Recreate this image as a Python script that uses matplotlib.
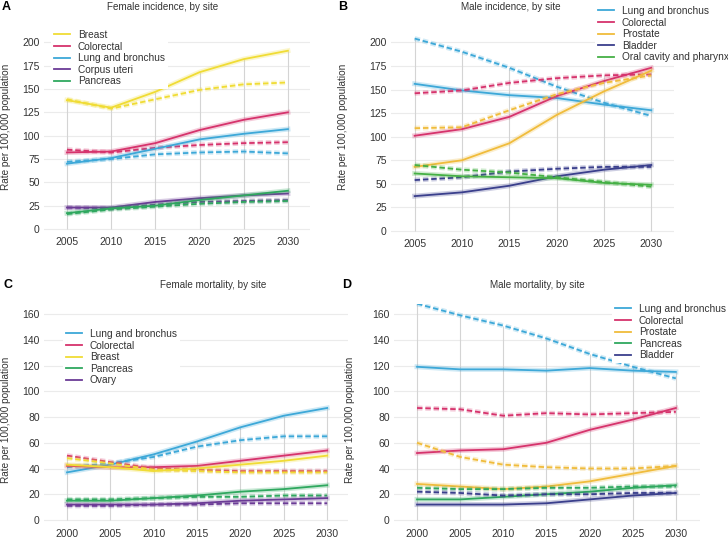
import matplotlib.pyplot as plt
import matplotlib.patheffects as pe

plt.rcParams['font.family'] = ['Liberation Sans', 'DejaVu Sans']
plt.rcParams['text.color'] = '#333333'

# ---- data: solid = observed trend, dashed = alternative projection ----
years_inc = [2005, 2010, 2015, 2020, 2025, 2030]
years_mort = [2000, 2005, 2010, 2015, 2020, 2025, 2030]

# A: female incidence
fi_sites = ["Breast", "Colorectal", "Lung and bronchus", "Corpus uteri", "Pancreas"]
fi_solid = [
    [138, 130, 147, 168, 182, 191],
    [82, 83, 92, 106, 117, 125],
    [70, 76, 86, 96, 102, 107],
    [23, 23, 29, 33, 36, 38],
    [17, 22, 25, 31, 36, 41],
]
fi_dashed = [
    [139, 129, 139, 149, 155, 157],
    [85, 82, 87, 90, 92, 93],
    [72, 75, 80, 82, 83, 81],
    [23, 22, 26, 29, 30, 31],
    [16, 21, 24, 27, 29, 30],
]

# B: male incidence
mi_sites = ["Lung and bronchus", "Colorectal", "Prostate", "Bladder", "Oral cavity and pharynx"]
mi_solid = [
    [156, 149, 144, 141, 134, 128],
    [101, 108, 121, 143, 159, 173],
    [68, 75, 93, 123, 148, 170],
    [37, 41, 48, 58, 65, 70],
    [61, 58, 57, 56, 51, 49],
]
mi_dashed = [
    [204, 190, 173, 153, 136, 122],
    [146, 149, 157, 162, 165, 166],
    [109, 110, 128, 145, 157, 165],
    [54, 57, 63, 66, 68, 68],
    [70, 65, 62, 57, 52, 47],
]

# C: female mortality
fm_sites = ["Lung and bronchus", "Colorectal", "Breast", "Pancreas", "Ovary"]
fm_solid = [
    [37, 43, 51, 61, 72, 81, 87],
    [42, 41, 41, 42, 46, 50, 54],
    [43, 41, 38, 40, 43, 46, 50],
    [15, 15, 17, 19, 22, 24, 27],
    [12, 12, 12, 13, 15, 16, 17],
]
fm_dashed = [
    [41, 44, 49, 57, 62, 65, 65],
    [50, 45, 40, 39, 38, 38, 38],
    [48, 44, 39, 38, 37, 37, 37],
    [16, 16, 17, 18, 18, 19, 19],
    [11, 11, 12, 12, 13, 13, 13],
]

# D: male mortality
mm_sites = ["Lung and bronchus", "Colorectal", "Prostate", "Pancreas", "Bladder"]
mm_solid = [
    [119, 117, 117, 116, 118, 116, 115],
    [52, 54, 55, 60, 70, 78, 87],
    [28, 26, 24, 26, 30, 36, 42],
    [16, 16, 18, 20, 22, 25, 27],
    [12, 12, 12, 13, 16, 19, 21],
]
mm_dashed = [
    [168, 159, 151, 141, 129, 119, 110],
    [87, 86, 81, 83, 82, 83, 84],
    [60, 49, 43, 41, 40, 40, 42],
    [25, 24, 24, 25, 25, 26, 26],
    [22, 21, 19, 20, 20, 21, 21],
]

site_colors = {
    "Breast": "#F0DC35",
    "Colorectal": "#D6336C",
    "Lung and bronchus": "#3DA8D8",
    "Corpus uteri": "#6B3B96",
    "Pancreas": "#2FA85F",
    "Prostate": "#F0BC3C",
    "Bladder": "#3A3F8C",
    "Oral cavity and pharynx": "#45B045",
    "Ovary": "#6B3B96",
}

W, H = 728, 539
fig = plt.figure(figsize=(W / 100, H / 100), dpi=100)


def box(x0, x1, y_top, y_bot):
    # pixel box -> figure fraction
    return [x0 / W, 1 - y_bot / H, (x1 - x0) / W, (y_bot - y_top) / H]


def panel(rect, years, sites, solid, dashed, xlim, ylim, yticks, legend_xy):
    ax = fig.add_axes(rect)
    # drop lines from 0 to highest value at each year
    tops = [max(col) for col in zip(*(solid + dashed))]
    ax.vlines(years, 0, tops, color='#d4d4d4', lw=0.8, zorder=1)
    handles = []
    for name, s, d in zip(sites, solid, dashed):
        c = site_colors[name]
        glow = [pe.Stroke(linewidth=3.6, foreground=c, alpha=0.25), pe.Normal()]
        h, = ax.plot(years, s, color=c, lw=1.3, path_effects=glow, zorder=3, label=name)
        ax.plot(years, d, color=c, lw=1.3, ls=(0, (3, 1.6)), path_effects=glow, zorder=3)
        handles.append(h)
    ax.set_xlim(*xlim)
    ax.set_ylim(*ylim)
    ax.set_xticks(years)
    ax.set_yticks(yticks)
    ax.yaxis.grid(True, color='#ebebeb', lw=0.8, zorder=0)
    ax.set_axisbelow(True)
    for sp in ax.spines.values():
        sp.set_visible(False)
    ax.tick_params(length=0, labelsize=7.5, colors='#333333', pad=3)
    ax.tick_params(axis='x', pad=2)
    fig.legend(handles=[plt.Line2D([], [], color=h.get_color(), lw=1.3) for h in handles],
               labels=sites, loc='upper left',
               bbox_to_anchor=(legend_xy[0] / W, 1 - legend_xy[1] / H),
               fontsize=7.25, frameon=True, facecolor='white', edgecolor='none',
               framealpha=1, fancybox=False, borderpad=0.3, borderaxespad=0,
               handlelength=1.55, handletextpad=0.8, labelspacing=0.15)
    return ax


panel(box(44, 310, 33, 234.6), years_inc, fi_sites, fi_solid, fi_dashed,
      (2002.4, 2032.5), (-6, 210), range(0, 201, 25), (51, 27))
panel(box(391, 674, 31, 236.7), years_inc, mi_sites, mi_solid, mi_dashed,
      (2002.5, 2032.4), (-6, 212), range(0, 201, 25), (595, 3))
panel(box(44, 348, 303.7, 525.8), years_mort, fm_sites, fm_solid, fm_dashed,
      (1997.35, 2032.4), (-4.5, 168), range(0, 161, 20), (63, 326))
panel(box(394, 700, 303.7, 525.8), years_mort, mm_sites, mm_solid, mm_dashed,
      (1997.33, 2032.8), (-4.5, 168), range(0, 161, 20), (612, 301))

# titles, panel letters, y labels
titles = [("Female incidence, by site", 163, 7), ("Male incidence, by site", 511, 7),
          ("Female mortality, by site", 213, 285), ("Male mortality, by site", 537, 285)]
for t, x, y in titles:
    fig.text(x / W, 1 - y / H, t, ha='center', va='center', fontsize=7.1)
letters = [("A", 6, 7), ("B", 343, 7), ("C", 8, 285), ("D", 347, 285)]
for t, x, y in letters:
    fig.text(x / W, 1 - y / H, t, ha='center', va='center', fontsize=9, fontweight='bold', color='black')
ylabels = [(6, 127), (343, 127), (6, 420), (350, 420)]
for x, y in ylabels:
    fig.text(x / W, 1 - y / H, "Rate per 100,000 population", rotation=90,
             ha='center', va='center', fontsize=7.2)

fig.savefig("out.png", dpi=100)
